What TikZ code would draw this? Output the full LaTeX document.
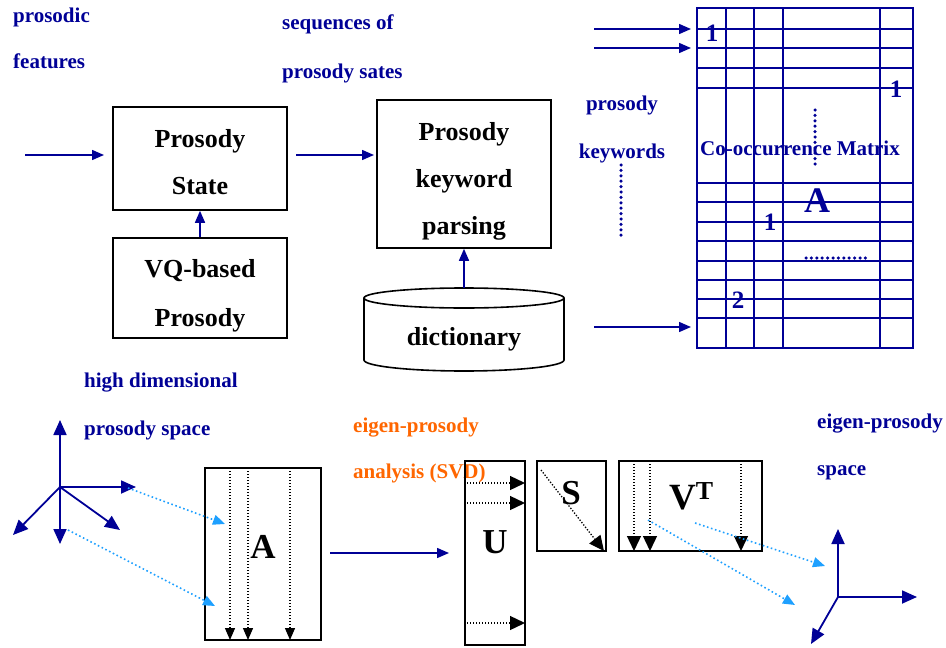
\documentclass[tikz,border=0pt]{standalone}
\usepackage{fontspec}
\setmainfont{Liberation Serif}
\usetikzlibrary{arrows.meta}
\definecolor{dblue}{RGB}{0,0,150}
\definecolor{lblue}{RGB}{30,160,255}
\definecolor{orng}{RGB}{255,102,0}
\begin{document}
\begin{tikzpicture}[x=1pt,y=-1pt,
  lbl/.style={font=\fontsize{21}{25}\selectfont\bfseries, text=dblue, anchor=base west, inner sep=0pt},
  olbl/.style={lbl, text=orng},
  boxn/.style={draw, line width=1.6pt, inner sep=0pt},
  boxt/.style={font=\fontsize{26}{30}\selectfont\bfseries, inner sep=0pt, anchor=base},
  arr/.style={dblue, line width=1.5pt, -{Triangle[length=12pt,width=10pt]}},
  axarr/.style={dblue, line width=1.8pt, -{Triangle[length=15pt,width=13pt]}},
  mtxt/.style={font=\fontsize{35}{38}\selectfont\bfseries, inner sep=0pt, anchor=base},
  dotarr/.style={line width=1.3pt, dash pattern=on 1.3pt off 1.7pt, -{Triangle[length=12pt,width=10pt]}},
  bigdotarr/.style={dotarr, -{Triangle[length=15pt,width=14pt]}},
  bdot/.style={lblue, line width=1.6pt, dash pattern=on 1.6pt off 2.6pt, -{Triangle[length=12pt,width=10pt]}},
  grid/.style={dblue, line width=1.2pt},
  bigdots/.style={dblue, line width=3.5pt, line cap=round, dash pattern=on 0pt off 5.4pt},
  cell/.style={text=dblue, font=\fontsize{25}{28}\selectfont\bfseries, inner sep=0pt, anchor=base}
]
\useasboundingbox (0,0) rectangle (946,648);

% ---------- top labels
\node[lbl] (l1) at (13,22) {prosodic};
\node[lbl] (l2) at (13,68) {features};
\node[lbl] (l3) at (282,29) {sequences of};
\node[lbl] (l4) at (282,78) {prosody sates};
\node[lbl, anchor=base] (l5) at (622,110) {prosody};
\node[lbl, anchor=base] (l6) at (622,158) {keywords};

% ---------- boxes
\node[boxn, minimum width=174pt, minimum height=103pt] (stat) at (200,158.5) {};
\node[boxt] (stat1) at (200,147) {Prosody};
\node[boxt] (stat2) at (200,194) {State};
\node[boxn, minimum width=174pt, minimum height=100pt] (vq) at (200,288) {};
\node[boxt] (vq1) at (200,277) {VQ-based};
\node[boxt] (vq2) at (200,326) {Prosody};
\node[boxn, minimum width=174pt, minimum height=148pt] (kw) at (464,174) {};
\node[boxt] (kw1) at (464,140) {Prosody};
\node[boxt] (kw2) at (464,187) {keyword};
\node[boxt] (kw3) at (464,234) {parsing};

% dictionary cylinder
\draw[line width=1.6pt] (364,298) -- (364,360) arc[start angle=180, end angle=0, x radius=100, y radius=11] -- (564,298);
\draw[line width=1.6pt] (464,298) ellipse[x radius=100, y radius=10];
\coordinate (dtop) at (464,288);
\node[boxt] (dict) at (464,345) {dictionary};

% arrows of top part
\coordinate (inA) at (25,155);
\draw[arr] (inA) -- (104,155);
\coordinate (sA) at (296,155);
\draw[arr] (sA) -- (374,155);
\draw[arr] (vq.north) -- (stat.south);
\draw[arr] (dtop) -- (kw.south);

% ---------- co-occurrence matrix
\node[draw=dblue, line width=1.6pt, minimum width=216pt, minimum height=340pt, inner sep=0pt] (mat) at (805,178) {};
\foreach \x in {726,754,783,880}
  \draw[grid] (\x,8) -- (\x,348);
\foreach \y in {29,48,68,88,183,202,222,241,261,280,299,318}
  \draw[grid] (697,\y) -- (913,\y);
\node[cell] (c1) at (712,41) {1};
\node[cell] (c2) at (896,97) {1};
\node[cell] (c3) at (770,230) {1};
\node[cell] (c4) at (738,308) {2};
\draw[bigdots] (815,110) -- (815,165);
\node[lbl, anchor=base] (com) at (800,155) {Co-occurrence Matrix};
\node[text=dblue, font=\fontsize{36}{38}\selectfont\bfseries, inner sep=0pt, anchor=base] (mA) at (817,212) {A};
\draw[bigdots] (806,258) -- (868,258);

\draw[bigdots] (621,165) -- (621,236);
\coordinate (k1) at (594,29);
\coordinate (k2) at (594,48);
\coordinate (k3) at (594,327);
\draw[arr] (k1) -- (691,29);
\draw[arr] (k2) -- (691,48);
\draw[arr] (k3) -- (691,327);

% ---------- bottom labels
\node[lbl] (l7) at (84,387) {high dimensional};
\node[lbl] (l8) at (84,435) {prosody space};
\node[olbl] (l9) at (353,432) {eigen-prosody};
\node[olbl] (l10) at (353,478) {analysis (SVD)};
\node[lbl] (l11) at (817,428) {eigen-prosody};
\node[lbl] (l12) at (817,475) {space};

% left axes
\coordinate (o1) at (60,487);
\coordinate (a1) at (60,420);
\coordinate (a2) at (136,487);
\coordinate (a3) at (60,544);
\coordinate (a4) at (13,535);
\coordinate (a5) at (120,530);
\foreach \t in {a1,a2,a3,a4,a5} \draw[axarr] (o1) -- (\t);

% matrix A
\node[boxn, minimum width=116pt, minimum height=172pt] (Abox) at (263,554) {};
\node[mtxt] (Al) at (263,558) {A};
\foreach \x in {230,248,290}
  \draw[dotarr] (\x,468) -- (\x,640);
\draw[bdot] (128,488) -- (225,524);
\draw[bdot] (68,530) -- (215,606);

\coordinate (ab) at (330,553);
\draw[arr] (ab) -- (449,553);

% U, S, VT
\node[boxn, minimum width=60pt, minimum height=184pt] (Ubox) at (495,553) {};
\node[mtxt] (Ul) at (495,553) {U};
\foreach \y in {483,503,623}
  \draw[bigdotarr] (467,\y) -- (525,\y);
\node[boxn, minimum width=69pt, minimum height=90pt] (Sbox) at (571.5,506) {};
\node[mtxt] (Sl) at (571,504) {S};
\draw[bigdotarr] (541,470) -- (604,551);
\node[boxn, minimum width=143pt, minimum height=90pt] (Vbox) at (690.5,506) {};
\node[mtxt, font=\fontsize{37}{38}\selectfont\bfseries, anchor=base west] (Vl) at (669,509) {V\textsuperscript{T}};
\foreach \x in {634,650,741}
  \draw[bigdotarr] (\x,461) -- (\x,551);
\draw[bdot] (648,520) -- (795,605);
\draw[bdot] (695,523) -- (825,566);

% right axes
\coordinate (o2) at (838,597);
\coordinate (b1) at (838,529);
\coordinate (b2) at (917,597);
\coordinate (b3) at (811,644);
\foreach \t in {b1,b2,b3} \draw[axarr] (o2) -- (\t);
\end{tikzpicture}
\end{document}
